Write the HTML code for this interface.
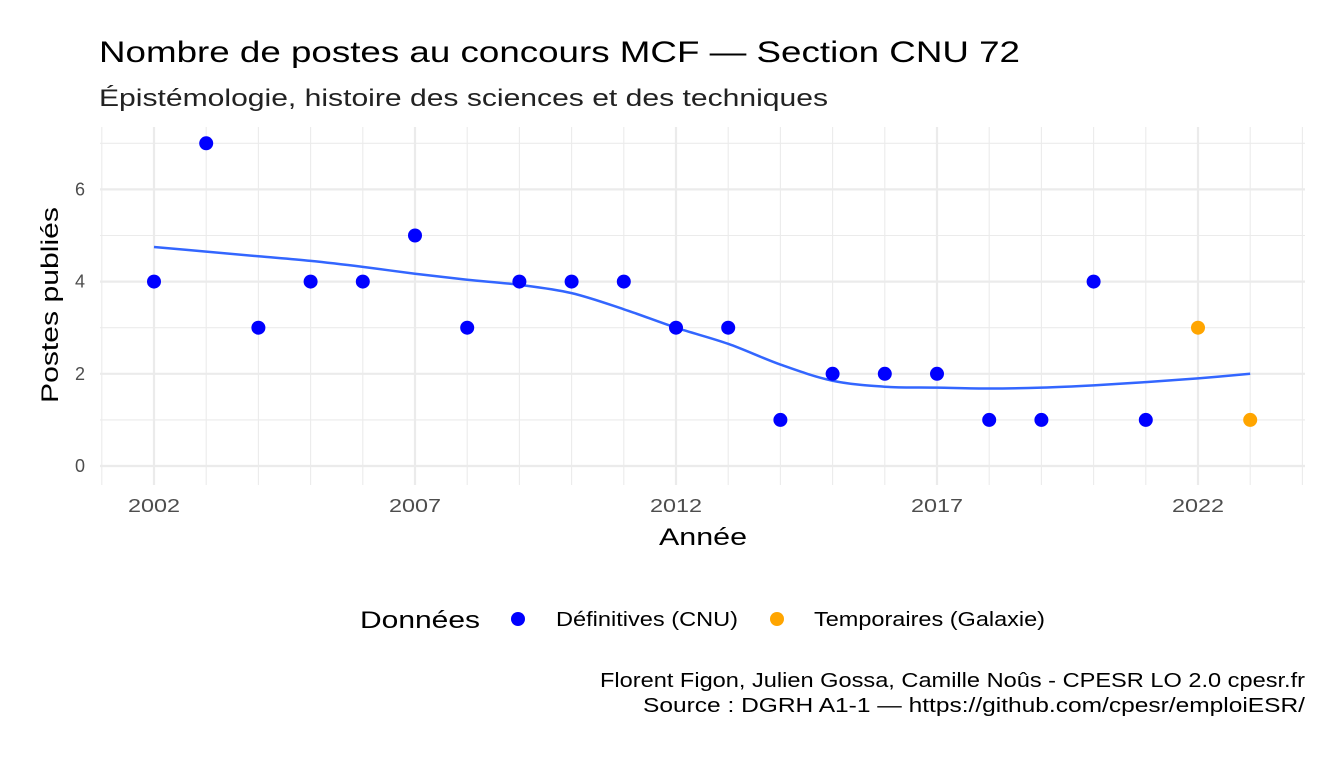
<!DOCTYPE html>
<html><head><meta charset="utf-8"><style>
body{margin:0;background:#fff;font-family:"Liberation Sans",sans-serif}
</style></head><body>
<svg width="1344" height="756" xmlns="http://www.w3.org/2000/svg" id="chart" font-family="Liberation Sans, sans-serif">
<text x="99" y="62" font-size="30" fill="#000" textLength="921" lengthAdjust="spacingAndGlyphs">Nombre de postes au concours MCF  —  Section CNU 72</text>
<text x="99" y="106" font-size="24" fill="#222" textLength="729" lengthAdjust="spacingAndGlyphs">Épistémologie, histoire des sciences et des techniques</text>
<g id="grid"></g>
<g id="marks"></g>
<text x="703" y="545" font-size="24" text-anchor="middle" fill="#000" textLength="88" lengthAdjust="spacingAndGlyphs">Année</text>
<text transform="translate(58,305) rotate(-90)" font-size="24" text-anchor="middle" fill="#000" textLength="196" lengthAdjust="spacingAndGlyphs">Postes publiés</text>
<g>
<text x="360" y="628" font-size="24" fill="#000" textLength="120" lengthAdjust="spacingAndGlyphs">Données</text>
<circle cx="518" cy="619" r="7" fill="#0000ff"/>
<text x="556" y="626" font-size="20" fill="#000" textLength="182" lengthAdjust="spacingAndGlyphs">Définitives (CNU)</text>
<circle cx="777" cy="619" r="7" fill="#ffa500"/>
<text x="814" y="626" font-size="20" fill="#000" textLength="231" lengthAdjust="spacingAndGlyphs">Temporaires (Galaxie)</text>
</g>
<text x="600" y="687" font-size="20" fill="#000" textLength="705" lengthAdjust="spacingAndGlyphs">Florent Figon, Julien Gossa, Camille Noûs - CPESR LO 2.0 cpesr.fr</text>
<text x="643" y="712" font-size="20" fill="#000" textLength="662" lengthAdjust="spacingAndGlyphs">Source : DGRH A1-1 — https://github.com/cpesr/emploiESR/</text>
</svg>
<script>
const years=[2002,2003,2004,2005,2006,2007,2008,2009,2010,2011,2012,2013,2014,2015,2016,2017,2018,2019,2020,2021,2022,2023];
const postes=[4,7,3,4,4,5,3,4,4,4,3,3,1,2,2,2,1,1,4,1,3,1];
const typeDonnees=['d','d','d','d','d','d','d','d','d','d','d','d','d','d','d','d','d','d','d','d','t','t'];
const smoothYears=[2002,2003,2004,2005,2006,2007,2008,2009,2010,2011,2012,2013,2014,2015,2016,2017,2018,2019,2020,2021,2022,2023];
const smoothVals=[4.75,4.65,4.55,4.45,4.32,4.17,4.04,3.93,3.75,3.4,3.0,2.65,2.2,1.85,1.72,1.70,1.68,1.70,1.75,1.82,1.9,2.0];
const xTicks=[2002,2007,2012,2017,2022];
const yTicks=[0,2,4,6];
const NS='http://www.w3.org/2000/svg';
const X=y=>154+(y-2002)*52.2;
const Y=v=>466-v*46.1;
const L=100,R=1305,T=127,B=485;
const grid=document.getElementById('grid'),marks=document.getElementById('marks');
function mk(tag,attrs,parent){const e=document.createElementNS(NS,tag);for(const k in attrs)e.setAttribute(k,attrs[k]);parent.appendChild(e);return e;}
for(let yr=2001;yr<=2024;yr++){const maj=xTicks.includes(yr);
 const l=mk('line',{x1:X(yr),x2:X(yr),y1:T,y2:B,stroke:'#ebebeb','stroke-width':maj?2.2:1.1},grid);
 
 }
for(let v=0;v<=7;v++){const maj=yTicks.includes(v);
 const l=mk('line',{x1:L,x2:R,y1:Y(v),y2:Y(v),stroke:'#ebebeb','stroke-width':maj?2.2:1.1},grid);
 
 }
xTicks.forEach(t=>{const e=mk('text',{x:X(t),y:512,'font-size':18,'text-anchor':'middle',fill:'#4d4d4d',textLength:52,lengthAdjust:'spacingAndGlyphs'},grid);e.textContent=t;
 
 });
yTicks.forEach(t=>{const e=mk('text',{x:85,y:Y(t)+6,'font-size':18,'text-anchor':'end',fill:'#4d4d4d'},grid);e.textContent=t;
 
 });
const pts=smoothYears.map((yr,i)=>[X(yr),Y(smoothVals[i])]);
let d='M'+pts[0][0]+','+pts[0][1];
for(let i=0;i<pts.length-1;i++){const p0=pts[Math.max(0,i-1)],p1=pts[i],p2=pts[i+1],p3=pts[Math.min(pts.length-1,i+2)];
 const c1=[p1[0]+(p2[0]-p0[0])/6,p1[1]+(p2[1]-p0[1])/6],c2=[p2[0]-(p3[0]-p1[0])/6,p2[1]-(p3[1]-p1[1])/6];
 d+=' C'+c1[0]+','+c1[1]+' '+c2[0]+','+c2[1]+' '+p2[0]+','+p2[1];}
const path=mk('path',{d:d,fill:'none',stroke:'#3366ff','stroke-width':2.5,'stroke-linejoin':'round'},marks);


years.forEach((yr,i)=>{const c=mk('circle',{cx:X(yr),cy:Y(postes[i]),r:7,fill:typeDonnees[i]==='t'?'#ffa500':'#0000ff'},marks);
 
 });
</script>
</body></html>
